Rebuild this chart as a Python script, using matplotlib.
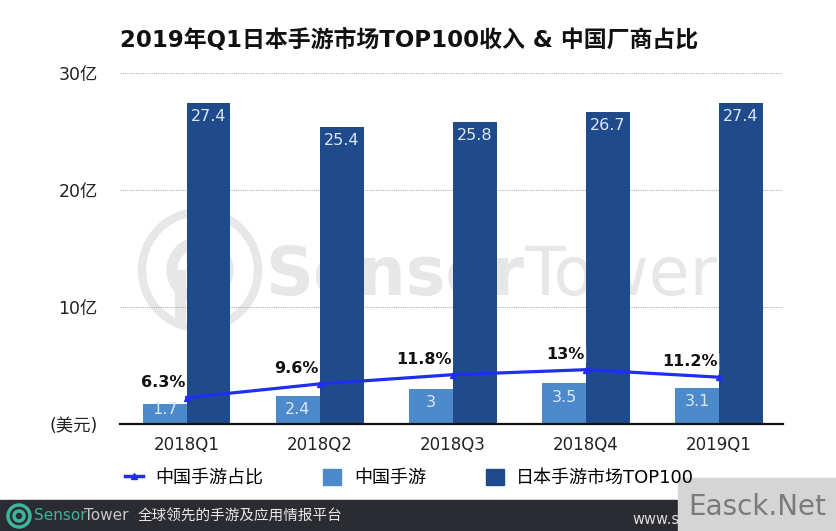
import matplotlib
matplotlib.use("Agg")
import matplotlib.pyplot as plt
from matplotlib.patches import Rectangle, Circle, Ellipse, Patch
from matplotlib.lines import Line2D

plt.rcParams['font.family'] = ['DejaVu Sans', 'Noto Sans CJK SC']

# ---- data ----
categories = ['2018Q1', '2018Q2', '2018Q3', '2018Q4', '2019Q1']
china_rev = [1.7, 2.4, 3, 3.5, 3.1]          # 中国手游 (亿美元)
japan_top100 = [27.4, 25.4, 25.8, 26.7, 27.4]  # 日本手游市场TOP100
china_share = [6.3, 9.6, 11.8, 13, 11.2]       # 中国手游占比 (%)
share_labels = ['6.3%', '9.6%', '11.8%', '13%', '11.2%']
china_labels = ['1.7', '2.4', '3', '3.5', '3.1']
japan_labels = ['27.4', '25.4', '25.8', '26.7', '27.4']
yticks = [0, 10, 20, 30]
ytick_labels = ['(美元)', '10亿', '20亿', '30亿']
series_names = ['中国手游占比', '中国手游', '日本手游市场TOP100']
title = '2019年Q1日本手游市场TOP100收入 & 中国厂商占比'

c_light = '#4d8acb'
c_dark = '#1f4a8c'
c_line = '#1f2ef0'
c_wm = '#e7e7e7'

W, H = 837, 531
fig = plt.figure(figsize=(W / 100, H / 100), dpi=100)
fig.patch.set_facecolor('white')

ax = fig.add_axes([120 / W, 1 - 424 / H, (783 - 120) / W, (424 - 73) / H])
ax.set_facecolor('none')

# background watermark (behind bars)
ring1 = Circle((2.00, (H - 270) / 100), 0.58, transform=fig.dpi_scale_trans,
               fill=False, lw=6, ec=c_wm, zorder=0.3, clip_on=False)
ring2 = Circle((2.00, (H - 270) / 100), 0.28, transform=fig.dpi_scale_trans,
               fill=False, lw=8, ec=c_wm, zorder=0.3, clip_on=False)
ax.add_patch(ring1)
ax.add_patch(ring2)
ax.add_line(Line2D([1.80, 1.80], [(H - 275) / 100, (H - 322) / 100], transform=fig.dpi_scale_trans,
                   lw=8, color=c_wm, zorder=0.3, clip_on=False))
t1 = ax.text(265 / W, 1 - 295 / H, 'Sensor', transform=fig.transFigure, fontsize=48,
             fontweight='bold', color=c_wm, ha='left', va='baseline', zorder=0.3)
fig.canvas.draw()
bb = t1.get_window_extent(fig.canvas.get_renderer())
ax.text(bb.x1 / W, 1 - 295 / H, 'Tower', transform=fig.transFigure, fontsize=48,
        color=c_wm, ha='left', va='baseline', zorder=0.3)

x = list(range(len(categories)))
bw = 0.33
ax.bar([i - bw / 2 for i in x], china_rev, width=bw, color=c_light, zorder=2)
ax.bar([i + bw / 2 for i in x], japan_top100, width=bw, color=c_dark, zorder=2)

for i in x:
    ax.text(i - bw / 2, max(china_rev[i] - 1.2, 1.2), china_labels[i], ha='center', va='center',
            color='#dde8f7', fontsize=11.5, zorder=3)
    ax.text(i + bw / 2, japan_top100[i] - 1.15, japan_labels[i], ha='center', va='center',
            color='#dde8f7', fontsize=11.5, zorder=3)

ax.set_xlim(-0.5, 4.48)
ax.set_ylim(0, 30)
ax.set_yticks(yticks)
ax.set_yticklabels(ytick_labels, fontsize=12.5, color='#222222')
ax.set_xticks(x)
ax.set_xticklabels(categories, fontsize=12, color='#222222')
ax.tick_params(axis='y', length=0, pad=16)
ax.tick_params(axis='x', length=0, pad=9)
for s in ['top', 'right', 'left']:
    ax.spines[s].set_visible(False)
ax.spines['bottom'].set_color('#111111')
ax.spines['bottom'].set_linewidth(1.6)
ax.spines['bottom'].set_zorder(4)
ax.yaxis.grid(True, linestyle=(0, (1, 1)), color='#b0b0b0', linewidth=0.8)
ax.set_axisbelow(True)

# share line on secondary axis
ax2 = ax.twinx()
ax2.set_ylim(0, 84)
ax2.set_yticks([])
for s in ax2.spines.values():
    s.set_visible(False)
ax2.plot(x, china_share, color=c_line, lw=2.3, marker='^', ms=5, zorder=5)
for i in x:
    ax2.annotate(share_labels[i], (x[i], china_share[i]), xytext=(-1, 11),
                 textcoords='offset points', ha='right', va='center',
                 fontsize=11.5, fontweight='bold', color='#111111',
                 bbox=dict(boxstyle='round,pad=0.1', fc='white', ec='none'), zorder=6)

# title
fig.text(120 / W, 1 - 40 / H, title, fontsize=16.5, fontweight='bold', ha='left', va='center',
         color='#111111')

# legend
handles = [Line2D([], [], color=c_line, lw=2.5, marker='^', ms=5),
           Patch(color=c_light), Patch(color=c_dark)]
fig.legend(handles, series_names, ncol=3, loc='center left',
           bbox_to_anchor=(125 / W, 1 - 478 / H), frameon=False, fontsize=13,
           borderaxespad=0, borderpad=0,
           handlelength=1.0, handleheight=1.0, handletextpad=0.7, columnspacing=3.3)

# footer
fig.add_artist(Rectangle((0, 0), 1, 31 / H, transform=fig.transFigure, color='#2a2c31', zorder=1))
fig.add_artist(Ellipse((19 / W, 15 / H), 22 / W, 22 / H, transform=fig.transFigure,
                       fill=False, ec='#3db59a', lw=2.5, zorder=2))
fig.add_artist(Ellipse((19 / W, 15 / H), 10 / W, 10 / H, transform=fig.transFigure,
                       fill=False, ec='#3db59a', lw=2.5, zorder=2))
fig.text(34 / W, 15 / H, 'Sensor', color='#3db59a', fontsize=11, ha='left', va='center', zorder=3)
fig.text(84 / W, 15 / H, 'Tower', color='#c8c8c8', fontsize=11, ha='left', va='center', zorder=3)
fig.text(138 / W, 15 / H, '全球领先的手游及应用情报平台', color='#e8e8e8', fontsize=10.5,
         ha='left', va='center', zorder=3)
fig.text(632 / W, 12 / H, 'www.s', color='#dddddd', fontsize=10.5, ha='left', va='center', zorder=3)

# site watermark box
fig.add_artist(Rectangle((678 / W, 0), 1 - 678 / W, 53 / H, transform=fig.transFigure,
                         color='#d5d5d5', zorder=4))
fig.text(757 / W, 24 / H, 'Easck.Net', color='#7a7a7a', fontsize=20, ha='center', va='center',
         zorder=5)

fig.savefig('out.png', dpi=100)
